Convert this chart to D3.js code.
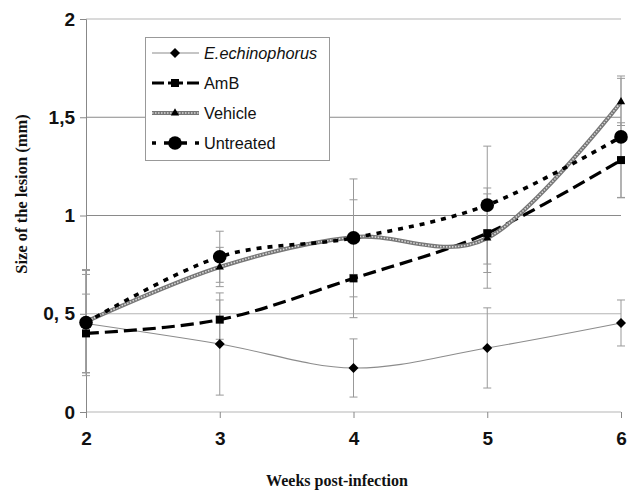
<!DOCTYPE html>
<html><head><meta charset="utf-8">
<script src="https://cdn.jsdelivr.net/npm/d3@7/dist/d3.min.js"></script>
<style>html,body{margin:0;padding:0;background:#fff;}svg{display:block;}</style>
</head><body>
<svg id="c" width="638" height="495"></svg>
<script>
const weeks = [2, 3, 4, 5, 6];
const yTicks = [0, 0.5, 1, 1.5, 2];
const yTickLabels = ["0", "0, 5", "1", "1,5", "2"];
const seriesNames = ["E.echinophorus", "AmB", "Vehicle", "Untreated"];
const echValues = [0.45, 0.346, 0.224, 0.326, 0.453];
const echErrors = [0.25, 0.26, 0.148, 0.204, 0.117];
const ambValues = [0.40, 0.47, 0.68, 0.91, 1.282];
const ambErrors = [0.2, 0.1, 0.2, 0.2, 0.19];
const vehValues = [0.46, 0.738, 0.89, 0.885, 1.578];
const vehErrors = [0.26, 0.10, 0.19, 0.255, 0.12];
const untValues = [0.455, 0.79, 0.886, 1.053, 1.40];
const untErrors = [0.27, 0.13, 0.30, 0.30, 0.31];

const svg = d3.select("#c");
const x = d3.scaleLinear().domain([2, 6]).range([86, 621]);
const y = d3.scaleLinear().domain([0, 2]).range([412, 19]);

// gridlines
svg.append("g").selectAll("line").data(yTicks).join("line")
  .attr("x1", x(2)).attr("x2", x(6))
  .attr("y1", d => y(d)).attr("y2", d => y(d))
  .attr("stroke", d => (d === 1 || d === 1.5) ? "#8a8a8a" : "#b5b5b5").attr("stroke-width", 1);

// y axis
const yAxis = d3.axisLeft(y).tickValues(yTicks).tickFormat((d, i) => yTickLabels[i]).tickSize(6).tickPadding(5);
const gy = svg.append("g").attr("transform", `translate(${x(2)},0)`).call(yAxis);
gy.select(".domain").attr("stroke", "#888");
gy.selectAll(".tick line").attr("stroke", "#888");
gy.selectAll("text").attr("font-family", "Liberation Sans, Arial, sans-serif")
  .attr("font-weight", "bold").attr("font-size", 19).attr("fill", "#111");

// x axis
const xAxis = d3.axisBottom(x).tickValues(weeks).tickFormat(d3.format("d")).tickSize(6).tickPadding(14);
const gx = svg.append("g").attr("transform", `translate(0,${y(0)})`).call(xAxis);
gx.select(".domain").remove();
gx.selectAll(".tick line").attr("stroke", "#888");
gx.selectAll("text").attr("font-family", "Liberation Sans, Arial, sans-serif")
  .attr("font-weight", "bold").attr("font-size", 19).attr("fill", "#111");

// axis titles
svg.append("text").attr("x", 337).attr("y", 486).attr("text-anchor", "middle")
  .attr("font-family", "Liberation Serif, Times New Roman, serif").attr("font-weight", "bold")
  .attr("font-size", 16).attr("fill", "#111").text("Weeks post-infection");
svg.append("text").attr("transform", "translate(27,194) rotate(-90)").attr("text-anchor", "middle")
  .attr("font-family", "Liberation Serif, Times New Roman, serif").attr("font-weight", "bold")
  .attr("font-size", 16.5).attr("fill", "#111").text("Size of the lesion (mm)");

const series = [
  {name: seriesNames[0], values: echValues, errors: echErrors, type: "ech"},
  {name: seriesNames[1], values: ambValues, errors: ambErrors, type: "amb"},
  {name: seriesNames[2], values: vehValues, errors: vehErrors, type: "veh"},
  {name: seriesNames[3], values: untValues, errors: untErrors, type: "unt"}
];

// error bars
const eg = svg.append("g");
series.forEach(s => {
  s.values.forEach((v, i) => {
    const cx = x(weeks[i]);
    eg.append("line").attr("x1", cx).attr("x2", cx).attr("y1", y(v - s.errors[i])).attr("y2", y(v + s.errors[i]))
      .attr("stroke", "#999").attr("stroke-width", 1);
    [v - s.errors[i], v + s.errors[i]].forEach(e => {
      eg.append("line").attr("x1", cx - 4).attr("x2", cx + 4).attr("y1", y(e)).attr("y2", y(e))
        .attr("stroke", "#999").attr("stroke-width", 1);
    });
  });
});

const line = d3.line().x((d, i) => x(weeks[i])).y(d => y(d)).curve(d3.curveCatmullRom.alpha(0));

function styleLine(sel, type, part) {
  if (type === "ech") sel.attr("stroke", "#8c8c8c").attr("stroke-width", 1.1);
  if (type === "amb") sel.attr("stroke", "#000").attr("stroke-width", 3.2).attr("stroke-dasharray", "13,6");
  if (type === "unt") sel.attr("stroke", "#000").attr("stroke-width", 3.6).attr("stroke-dasharray", "5,6");
  if (type === "veh") {
    if (part === 0) sel.attr("stroke", "#777").attr("stroke-width", 4.2);
    else sel.attr("stroke", "#d8d8d8").attr("stroke-width", 1.6).attr("stroke-dasharray", "1.5,1.5");
  }
  sel.attr("fill", "none");
}

function drawMarker(g, type, cx, cy) {
  if (type === "ech") g.append("path").attr("d", d3.symbol(d3.symbolSquare, 50)()).attr("transform", `translate(${cx},${cy}) rotate(45)`).attr("fill", "#000");
  if (type === "amb") g.append("rect").attr("x", cx - 4).attr("y", cy - 4).attr("width", 8).attr("height", 8).attr("fill", "#000");
  if (type === "veh") g.append("path").attr("d", d3.symbol(d3.symbolTriangle, 30)()).attr("transform", `translate(${cx},${cy})`).attr("fill", "#000");
  if (type === "unt") g.append("circle").attr("cx", cx).attr("cy", cy).attr("r", 6.8).attr("fill", "#000");
}

const order = ["ech", "amb", "veh", "unt"];
order.forEach(t => {
  const s = series.find(d => d.type === t);
  if (t === "veh") {
    styleLine(svg.append("path").attr("d", line(s.values)), t, 0);
    styleLine(svg.append("path").attr("d", line(s.values)), t, 1);
  } else {
    styleLine(svg.append("path").attr("d", line(s.values)), t, 0);
  }
});
const mg = svg.append("g");
order.forEach(t => {
  const s = series.find(d => d.type === t);
  s.values.forEach((v, i) => drawMarker(mg, t, x(weeks[i]), y(v)));
});

// legend
const lg = svg.append("g");
lg.append("rect").attr("x", 145.5).attr("y", 37.5).attr("width", 184).attr("height", 123)
  .attr("fill", "#fff").attr("stroke", "#999").attr("stroke-width", 1);
const rowY = [53, 83, 113, 143];
series.forEach((s, i) => {
  const yy = rowY[i];
  if (s.type === "veh") {
    styleLine(lg.append("line").attr("x1", 152).attr("x2", 199).attr("y1", yy).attr("y2", yy), s.type, 0);
    styleLine(lg.append("line").attr("x1", 152).attr("x2", 199).attr("y1", yy).attr("y2", yy), s.type, 1);
  } else if (s.type === "amb") {
    lg.append("line").attr("x1", 152).attr("x2", 199).attr("y1", yy).attr("y2", yy).attr("stroke", "#000")
      .attr("stroke-width", 3.2).attr("stroke-dasharray", "12,4,15,4,12");
  } else if (s.type === "unt") {
    lg.append("line").attr("x1", 152).attr("x2", 199).attr("y1", yy).attr("y2", yy).attr("stroke", "#000")
      .attr("stroke-width", 3.6).attr("stroke-dasharray", "4,8,23,8,4");
  } else {
    styleLine(lg.append("line").attr("x1", 152).attr("x2", 199).attr("y1", yy).attr("y2", yy), s.type, 0);
  }
  drawMarker(lg, s.type, 175, yy);
  lg.append("text").attr("x", 204).attr("y", yy + 6)
    .attr("font-family", "Liberation Sans, Arial, sans-serif").attr("font-size", 16.3)
    .attr("font-style", s.type === "ech" ? "italic" : "normal").attr("fill", "#111").text(s.name);
});
</script>
</body></html>
